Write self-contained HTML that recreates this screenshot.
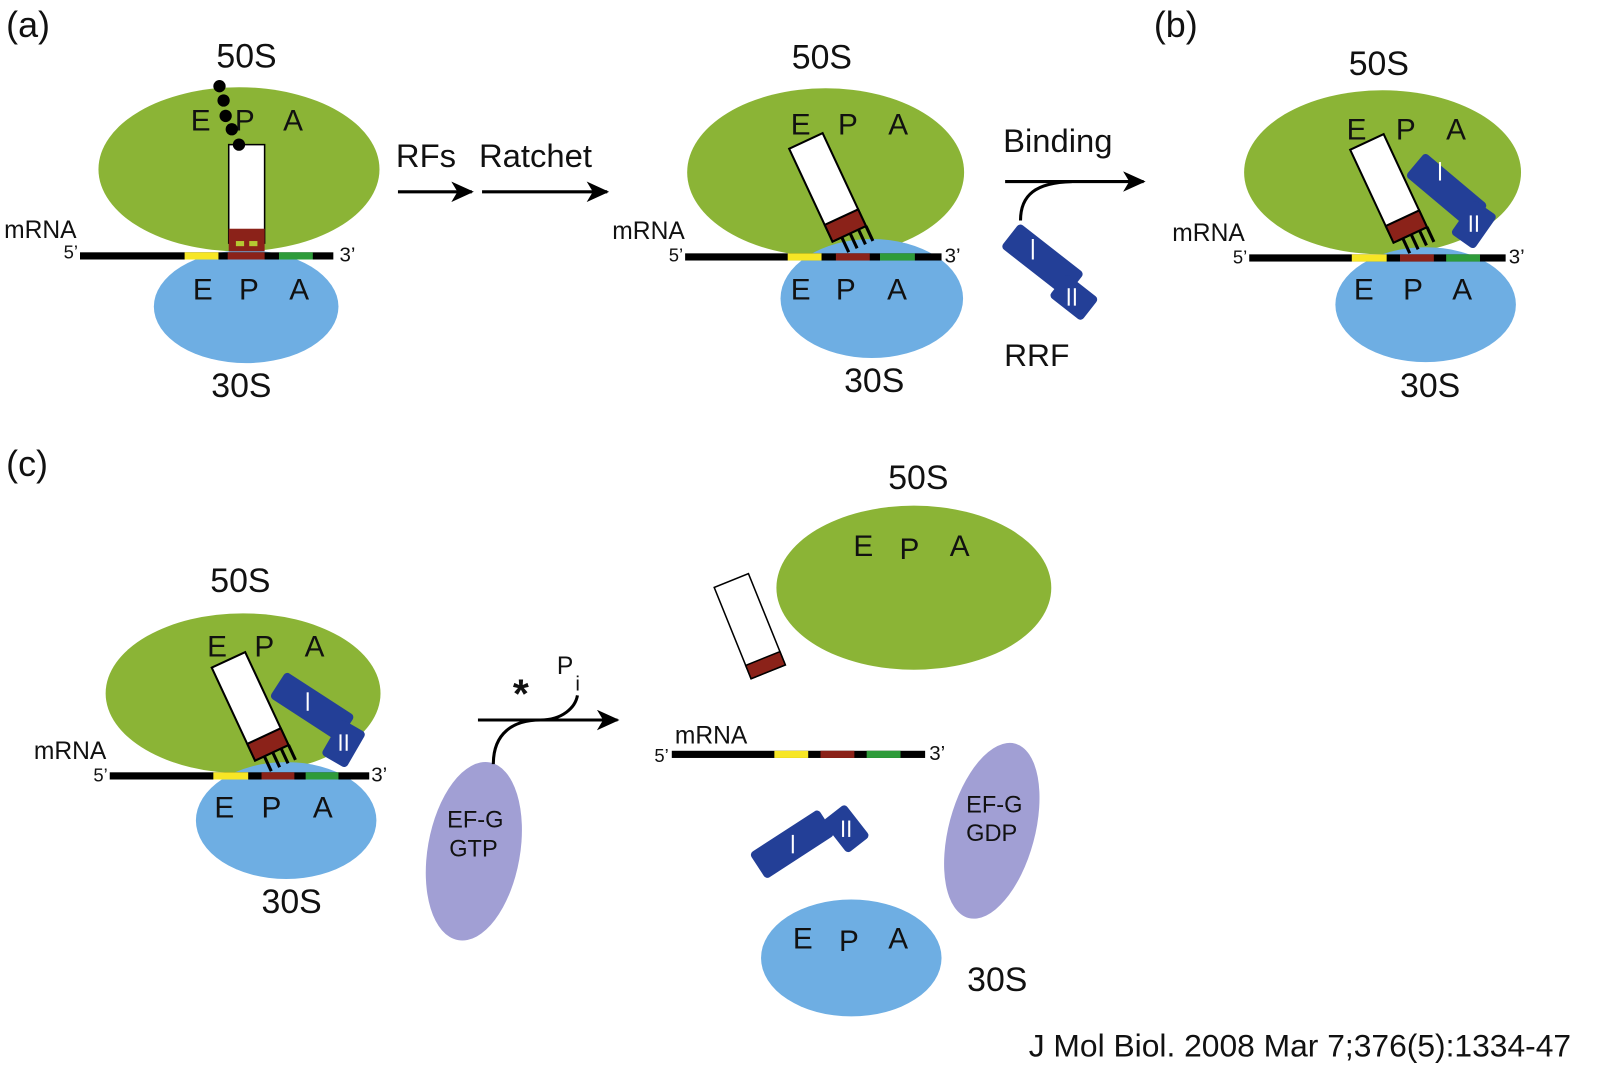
<!DOCTYPE html>
<html><head><meta charset="utf-8"><style>html,body{margin:0;padding:0;background:#fff}svg{display:block}text{font-family:"Liberation Sans",Arial,sans-serif;fill:#111}</style></head>
<body>
<svg width="1600" height="1079" viewBox="0 0 1560 1052" xmlns="http://www.w3.org/2000/svg">
<defs>
<marker id="ah2" markerWidth="22" markerHeight="20" refX="20" refY="10" orient="auto" markerUnits="userSpaceOnUse"><path d="M0,0 L22,10 L0,20 L6,10 z" fill="#000"/></marker>
<g id="trna">
<rect x="-18" y="-100" width="36" height="100" fill="#fff" stroke="#000" stroke-width="2"/>
<rect x="-18" y="-18" width="36" height="18" fill="#8b2219" stroke="#000" stroke-width="2"/>
<line x1="-8" y1="0" x2="-8" y2="16" stroke="#000" stroke-width="3"/>
<line x1="1" y1="0" x2="1" y2="16" stroke="#000" stroke-width="3"/>
<line x1="10" y1="0" x2="10" y2="16" stroke="#000" stroke-width="3"/>
<line x1="18" y1="0" x2="18" y2="16" stroke="#000" stroke-width="3"/>
</g>
</defs>

<!-- ===== (a) left ===== -->
<text x="6" y="36" font-size="35">(a)</text>
<text x="211" y="66" font-size="33">50S</text>
<ellipse cx="233" cy="165" rx="137" ry="80" fill="#8bb436"/>
<ellipse cx="240" cy="299" rx="90" ry="55" fill="#6eaee3"/>
<g font-size="29"><text x="186" y="127">E</text><text x="229" y="127">P</text><text x="276" y="127">A</text>
<text x="188" y="292">E</text><text x="233" y="292">P</text><text x="282" y="292">A</text></g>
<rect x="223" y="141" width="35" height="96" fill="#fff" stroke="#000" stroke-width="1.5"/>
<rect x="223" y="223" width="35" height="22" fill="#8b2219"/>
<rect x="230" y="235" width="8" height="5" fill="#b5c832"/><rect x="243" y="235" width="8" height="5" fill="#b5c832"/>
<circle cx="214" cy="84" r="6" fill="#000"/><circle cx="218" cy="98" r="6" fill="#000"/><circle cx="220" cy="113" r="6" fill="#000"/><circle cx="226" cy="126" r="6" fill="#000"/><circle cx="233" cy="141" r="6" fill="#000"/>
<rect x="78" y="246" width="247" height="7" fill="#000"/>
<rect x="180" y="246" width="33" height="7" fill="#f7e625"/><rect x="222" y="246" width="36" height="7" fill="#8b2219"/><rect x="272" y="246" width="33" height="7" fill="#2e9b3a"/>
<text x="4" y="232" font-size="24">mRNA</text><text x="62" y="252" font-size="18">5’</text><text x="331" y="255" font-size="20">3’</text>
<text x="206" y="387" font-size="33">30S</text>

<text x="386" y="163" font-size="32">RFs</text><text x="467" y="163" font-size="32">Ratchet</text>
<line x1="388" y1="187" x2="460" y2="187" stroke="#000" stroke-width="3" marker-end="url(#ah2)"/>
<line x1="470" y1="187" x2="592" y2="187" stroke="#000" stroke-width="3" marker-end="url(#ah2)"/>

<!-- ===== (a) middle ===== -->
<text x="772" y="67" font-size="33">50S</text>
<ellipse cx="805" cy="168" rx="135" ry="82" fill="#8bb436"/>
<ellipse cx="850" cy="291" rx="89" ry="58" fill="#6eaee3"/>
<g font-size="29"><text x="771" y="131">E</text><text x="817" y="131">P</text><text x="866" y="131">A</text>
<text x="771" y="292">E</text><text x="815" y="292">P</text><text x="865" y="292">A</text></g>
<use href="#trna" transform="translate(828,228) rotate(-25)"/>
<rect x="668" y="247" width="250" height="7" fill="#000"/>
<rect x="768" y="247" width="33" height="7" fill="#f7e625"/><rect x="815" y="247" width="33" height="7" fill="#8b2219"/><rect x="858" y="247" width="34" height="7" fill="#2e9b3a"/>
<text x="597" y="233" font-size="24">mRNA</text><text x="652" y="255" font-size="18">5’</text><text x="921" y="256" font-size="20">3’</text>
<text x="823" y="382" font-size="33">30S</text>

<text x="978" y="148" font-size="32">Binding</text>
<line x1="980" y1="177" x2="1115" y2="177" stroke="#000" stroke-width="3" marker-end="url(#ah2)"/>
<path d="M995,215 C995,190 1010,178 1045,177" fill="none" stroke="#000" stroke-width="3"/>
<rect x="-42" y="-15" width="80" height="30" rx="4" fill="#233f97" transform="translate(1018,255) rotate(38)"/>
<rect x="-14" y="-20" width="28" height="40" rx="4" fill="#233f97" transform="translate(1047,290) rotate(-52)"/>
<line x1="1007" y1="233" x2="1007" y2="253" stroke="#fff" stroke-width="2"/>
<line x1="1042" y1="281" x2="1042" y2="298" stroke="#fff" stroke-width="2"/><line x1="1048" y1="281" x2="1048" y2="298" stroke="#fff" stroke-width="2"/>
<text x="979" y="357" font-size="31">RRF</text>

<!-- ===== (b) ===== -->
<text x="1125" y="36" font-size="35">(b)</text>
<text x="1315" y="73" font-size="33">50S</text>
<ellipse cx="1348" cy="168" rx="135" ry="80" fill="#8bb436"/>
<ellipse cx="1390" cy="297" rx="88" ry="56" fill="#6eaee3"/>
<g font-size="29"><text x="1313" y="136">E</text><text x="1361" y="136">P</text><text x="1410" y="136">A</text>
<text x="1320" y="292">E</text><text x="1368" y="292">P</text><text x="1416" y="292">A</text></g>
<use href="#trna" transform="translate(1375,229) rotate(-25)"/>
<rect x="-42" y="-15" width="80" height="30" rx="4" fill="#233f97" transform="translate(1412,187) rotate(40)"/>
<rect x="-14" y="-20" width="28" height="40" rx="4" fill="#233f97" transform="translate(1437,219) rotate(35)"/>
<line x1="1404" y1="158" x2="1404" y2="176" stroke="#fff" stroke-width="2"/>
<line x1="1434" y1="210" x2="1434" y2="226" stroke="#fff" stroke-width="2"/><line x1="1440" y1="210" x2="1440" y2="226" stroke="#fff" stroke-width="2"/>
<rect x="1218" y="248" width="250" height="7" fill="#000"/>
<rect x="1318" y="248" width="34" height="7" fill="#f7e625"/><rect x="1365" y="248" width="33" height="7" fill="#8b2219"/><rect x="1410" y="248" width="33" height="7" fill="#2e9b3a"/>
<text x="1143" y="235" font-size="24">mRNA</text><text x="1202" y="257" font-size="18">5’</text><text x="1471" y="257" font-size="20">3’</text>
<text x="1365" y="387" font-size="33">30S</text>

<!-- ===== (c) ===== -->
<text x="6" y="464" font-size="35">(c)</text>
<text x="205" y="577" font-size="33">50S</text>
<ellipse cx="237" cy="676" rx="134" ry="78" fill="#8bb436"/>
<ellipse cx="279" cy="800" rx="88" ry="57" fill="#6eaee3"/>
<g font-size="29"><text x="202" y="640">E</text><text x="248" y="640">P</text><text x="297" y="640">A</text>
<text x="209" y="797">E</text><text x="255" y="797">P</text><text x="305" y="797">A</text></g>
<use href="#trna" transform="translate(265,734) rotate(-25)"/>
<rect x="-42" y="-15" width="80" height="30" rx="4" fill="#233f97" transform="translate(306,690) rotate(33)"/>
<rect x="-14" y="-20" width="28" height="40" rx="4" fill="#233f97" transform="translate(335,725) rotate(30)"/>
<line x1="300" y1="675" x2="300" y2="693" stroke="#fff" stroke-width="2"/>
<line x1="332" y1="716" x2="332" y2="732" stroke="#fff" stroke-width="2"/><line x1="338" y1="716" x2="338" y2="732" stroke="#fff" stroke-width="2"/>
<rect x="107" y="753" width="253" height="7" fill="#000"/>
<rect x="208" y="753" width="34" height="7" fill="#f7e625"/><rect x="255" y="753" width="32" height="7" fill="#8b2219"/><rect x="298" y="753" width="32" height="7" fill="#2e9b3a"/>
<text x="33" y="740" font-size="24">mRNA</text><text x="91" y="762" font-size="18">5’</text><text x="362" y="762" font-size="20">3’</text>
<text x="255" y="890" font-size="33">30S</text>

<ellipse cx="462" cy="830" rx="45" ry="88" transform="rotate(10 462 830)" fill="#a19fd4"/>
<text x="436" y="807" font-size="23" fill="#333">EF-G</text><text x="438" y="835" font-size="23" fill="#333">GTP</text>
<line x1="466" y1="702" x2="602" y2="702" stroke="#000" stroke-width="3" marker-end="url(#ah2)"/>
<path d="M481,745 C481,715 500,702 527,702 C548,702 561,690 563,678" fill="none" stroke="#000" stroke-width="3"/>
<text x="500" y="690" font-size="40" font-weight="bold">*</text>
<text x="543" y="657" font-size="24">P</text><text x="561" y="673" font-size="20">i</text>

<text x="866" y="477" font-size="33">50S</text>
<ellipse cx="891" cy="573" rx="134" ry="80" fill="#8bb436"/>
<g font-size="29"><text x="832" y="542">E</text><text x="877" y="545">P</text><text x="926" y="542">A</text></g>
<g transform="translate(749,655) rotate(-22)">
<rect x="-18" y="-96" width="36" height="96" fill="#fff" stroke="#000" stroke-width="1.5"/>
<rect x="-18" y="-14" width="36" height="14" fill="#8b2219" stroke="#000" stroke-width="1.5"/>
</g>
<rect x="655" y="732" width="247" height="7" fill="#000"/>
<rect x="755" y="732" width="33" height="7" fill="#f7e625"/><rect x="800" y="732" width="33" height="7" fill="#8b2219"/><rect x="845" y="732" width="33" height="7" fill="#2e9b3a"/>
<text x="658" y="725" font-size="24">mRNA</text><text x="638" y="743" font-size="18">5’</text><text x="906" y="741" font-size="20">3’</text>
<rect x="-42" y="-15" width="80" height="30" rx="4" fill="#233f97" transform="translate(774,822) rotate(-33)"/>
<rect x="-14" y="-20" width="28" height="40" rx="4" fill="#233f97" transform="translate(825,808) rotate(-38)"/>
<line x1="773" y1="814" x2="773" y2="832" stroke="#fff" stroke-width="2"/>
<line x1="822" y1="800" x2="822" y2="816" stroke="#fff" stroke-width="2"/><line x1="828" y1="800" x2="828" y2="816" stroke="#fff" stroke-width="2"/>
<ellipse cx="967" cy="810" rx="42" ry="88" transform="rotate(15 967 810)" fill="#a19fd4"/>
<text x="942" y="792" font-size="23" fill="#333">EF-G</text><text x="942" y="820" font-size="23" fill="#333">GDP</text>
<ellipse cx="830" cy="934" rx="88" ry="57" fill="#6eaee3"/>
<g font-size="29"><text x="773" y="925">E</text><text x="818" y="927">P</text><text x="866" y="925">A</text></g>
<text x="943" y="966" font-size="33">30S</text>

<text x="1003" y="1030" font-size="31">J Mol Biol. 2008 Mar 7;376(5):1334-47</text>
</svg>
</body></html>
